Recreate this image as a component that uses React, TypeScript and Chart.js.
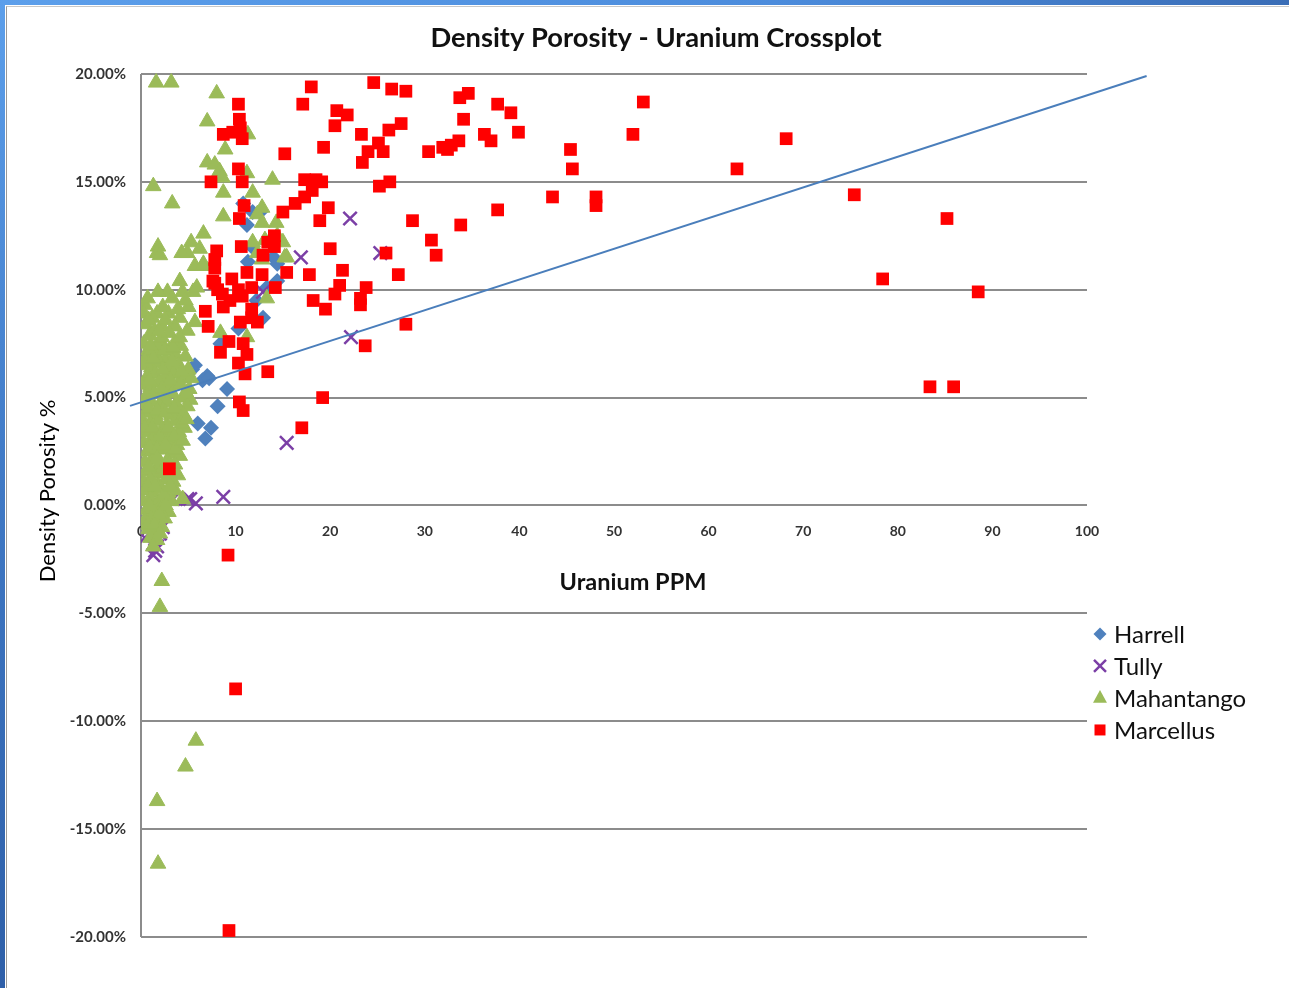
import { useEffect, useRef } from "react";
import { Chart, registerables } from "chart.js";

Chart.register(...registerables);

// ---------- text ----------
const CHART_TITLE = "Density Porosity - Uranium Crossplot";
const X_TITLE = "Uranium PPM";
const Y_TITLE = "Density Porosity %";

// ---------- axes ----------
const X_MIN = 0;
const X_MAX = 100;
const X_STEP = 10;
const Y_MIN = -20;
const Y_MAX = 20;
const Y_STEP = 5;

// ---------- series: [Uranium PPM, Density Porosity %] ----------
const harrell: [number, number][] = [
  [10.8, 14.0], [11.8, 13.6], [12.6, 13.6], [11.2, 13.0], [11.7, 12.0], [14.0, 11.5],
  [14.4, 11.2], [13.3, 10.1], [14.4, 10.4], [10.3, 8.2], [12.9, 8.7], [8.4, 7.5],
  [7.0, 6.0], [6.5, 5.8], [5.4, 6.3], [9.1, 5.4], [8.1, 4.6], [6.0, 3.8],
  [7.4, 3.6], [6.8, 3.1], [7.2, 5.9], [5.7, 6.5], [12.2, 9.5], [11.3, 11.3],
];

const tully: [number, number][] = [
  [22.1, 13.3], [16.9, 11.5], [25.3, 11.7], [22.2, 7.8], [15.4, 2.9], [8.7, 0.4],
  [5.8, 0.1], [4.9, 0.3], [3.4, 0.3], [1.3, -2.3], [1.5, -2.1], [2.0, -1.3],
  [0.4, -1.5], [1.0, -0.7], [2.3, -1.0], [3.3, 6.2], [3.8, 4.0], [12.9, 9.9],
  [5.2, 0.3], [1.7, -1.9],
];

const mahantangoScattered: [number, number][] = [
  [1.6, 19.6], [3.2, 19.6], [8.0, 19.1], [7.0, 17.8], [11.3, 17.2], [8.9, 16.5],
  [7.0, 15.9], [7.8, 15.8], [8.3, 15.5], [11.2, 15.4], [8.6, 15.2], [1.3, 14.8],
  [13.9, 15.1], [11.8, 14.5], [8.7, 14.5], [3.3, 14.0], [8.7, 13.4], [12.3, 13.5],
  [12.8, 13.1], [14.3, 13.1], [15.0, 12.2], [15.4, 11.5], [13.1, 12.3], [6.6, 12.6],
  [5.3, 12.2], [6.2, 11.9], [4.9, 11.7], [1.8, 12.0], [1.7, 11.7], [12.3, 11.7],
  [12.8, 11.4], [6.6, 11.2], [4.4, 9.9], [5.5, 9.9], [13.3, 9.6], [5.0, 9.2],
  [2.0, 11.6], [4.3, 11.7], [5.7, 11.1], [6.5, 11.1], [4.1, 10.4], [2.8, 9.9],
  [1.8, 9.9], [5.9, 10.1], [4.7, 9.5], [1.7, 8.9], [4.1, 8.7], [5.7, 8.5],
  [2.2, 8.3], [4.9, 8.1], [8.4, 8.0], [1.0, 7.4], [2.2, 7.8], [3.4, 7.3],
  [4.1, 7.8], [11.2, 7.8], [15.2, 11.5], [11.8, 12.2], [14.4, 12.5], [12.8, 13.8],
  [4.8, 4.0], [4.4, 3.0], [4.4, 0.3], [2.2, -3.5], [2.0, -4.7], [5.8, -10.9],
  [4.7, -12.1], [1.7, -13.7], [1.8, -16.6], [0.5, 8.4], [0.9, 7.9],
  [0.4, 9.3], [1.2, 8.7], [2.9, 8.9], [3.3, 9.6], [0.3, 8.9], [3.6, 8.3], [1.4, 8.1],
  [0.7, 9.6], [2.3, 9.2], [3.9, 9.1], [2.6, 8.6], [0.8, 8.6], [3.0, 8.0], [1.9, 8.1],
];

const mahantangoCluster: [number, number][] = [
  [0.3, 7.5], [1.2, 7.3], [2.1, 7.6], [3.0, 7.2], [4.2, 7.4],
  [0.6, 6.9], [1.6, 7.0], [2.6, 6.8], [3.6, 7.0], [4.7, 6.9],
  [0.3, 6.5], [1.1, 6.4], [2.0, 6.6], [3.1, 6.4], [4.0, 6.5], [5.0, 6.3],
  [0.7, 6.0], [1.5, 6.1], [2.5, 5.9], [3.4, 6.1], [4.5, 5.9], [5.3, 5.9],
  [0.2, 5.6], [1.0, 5.5], [1.9, 5.7], [2.9, 5.5], [3.9, 5.6], [5.1, 5.4],
  [0.6, 5.1], [1.4, 5.2], [2.4, 5.0], [3.3, 5.2], [4.4, 5.0], [5.2, 4.9],
  [0.3, 4.7], [1.1, 4.8], [2.0, 4.6], [2.8, 4.8], [3.7, 4.7], [4.9, 4.6],
  [0.5, 4.3], [1.5, 4.2], [2.3, 4.4], [3.2, 4.2], [4.2, 4.3],
  [0.2, 3.9], [1.0, 3.8], [1.8, 3.9], [2.7, 3.7], [3.6, 3.9], [4.6, 3.6],
  [0.6, 3.4], [1.4, 3.3], [2.2, 3.5], [3.1, 3.3], [4.0, 3.4],
  [0.3, 2.9], [1.1, 3.0], [1.9, 2.8], [2.9, 3.0], [3.8, 2.8],
  [0.7, 2.5], [1.5, 2.4], [2.4, 2.6], [3.3, 2.4], [4.1, 2.3],
  [0.4, 2.0], [1.2, 2.1], [2.0, 1.9], [2.8, 2.1], [3.6, 1.9],
  [0.6, 1.6], [1.4, 1.5], [2.3, 1.7], [3.2, 1.5], [3.9, 1.4],
  [0.3, 1.1], [1.0, 1.2], [1.8, 1.0], [2.6, 1.2], [3.4, 1.1],
  [0.5, 0.7], [1.3, 0.6], [2.1, 0.8], [2.9, 0.6], [3.6, 0.7],
  [0.2, 0.2], [1.0, 0.3], [1.7, 0.1], [2.5, 0.3], [3.2, 0.2],
  [0.6, -0.2], [1.4, -0.3], [2.2, -0.1], [2.9, -0.3],
  [0.4, -0.7], [1.1, -0.6], [1.8, -0.8], [2.5, -0.6],
  [0.8, -1.1], [1.5, -1.2], [2.2, -1.0],
  [1.0, -1.5], [1.7, -1.6],
  [1.3, -1.9],
  [0.8, 7.2], [1.7, 7.4], [2.5, 7.2], [3.5, 7.5],
  [0.4, 6.7], [1.3, 6.8], [2.3, 6.3], [3.3, 6.7], [4.3, 6.2],
  [0.9, 5.8], [2.2, 5.4], [3.1, 5.8], [4.2, 5.6], [4.8, 5.2],
  [0.8, 4.5], [1.7, 4.4], [2.6, 4.3], [3.5, 4.5], [4.5, 4.2],
  [0.4, 3.6], [1.2, 3.6], [2.0, 3.2], [2.9, 3.6], [3.5, 3.2], [4.3, 3.8],
  [0.9, 2.7], [1.7, 2.6], [2.6, 2.8], [3.6, 2.6],
  [0.8, 1.8], [1.7, 2.2], [2.6, 1.5], [3.0, 1.9],
  [0.7, 0.9], [1.5, 0.9], [2.4, 0.5], [3.1, 0.9],
  [0.9, 0.0], [1.9, -0.4], [2.6, 0.0],
  [0.7, -0.9], [1.4, -0.9], [2.0, -1.3],
];

const marcellus: [number, number][] = [
  [10.3, 18.6], [18.0, 19.4], [17.1, 18.6], [24.6, 19.6], [26.5, 19.3], [28.0, 19.2],
  [33.7, 18.9], [34.6, 19.1], [37.7, 18.6], [39.1, 18.2], [53.1, 18.7], [20.7, 18.3],
  [21.8, 18.1], [20.5, 17.6], [23.3, 17.2], [27.5, 17.7], [26.2, 17.4], [25.1, 16.8],
  [24.0, 16.4], [23.4, 15.9], [25.6, 16.4], [34.1, 17.9], [36.3, 17.2], [37.0, 16.9],
  [39.9, 17.3], [30.4, 16.4], [31.9, 16.6], [32.4, 16.5], [32.8, 16.7], [33.6, 16.9],
  [19.3, 16.6], [15.2, 16.3], [45.4, 16.5], [45.6, 15.6], [52.0, 17.2], [63.0, 15.6],
  [68.2, 17.0], [75.4, 14.4], [85.2, 13.3], [78.4, 10.5], [88.5, 9.9], [83.4, 5.5],
  [85.9, 5.5], [43.5, 14.3], [48.1, 14.3], [48.1, 13.9], [37.7, 13.7], [33.8, 13.0],
  [28.7, 13.2], [30.7, 12.3], [31.2, 11.6], [27.2, 10.7], [25.9, 11.7], [28.0, 8.4],
  [23.8, 10.1], [23.2, 9.6], [23.2, 9.3], [23.7, 7.4], [19.2, 5.0], [17.0, 3.6],
  [13.4, 6.2], [26.3, 15.0], [25.2, 14.8], [17.3, 15.1], [18.5, 15.1], [19.1, 15.0],
  [18.1, 14.6], [17.3, 14.3], [16.3, 14.0], [15.0, 13.6], [19.8, 13.8], [18.9, 13.2],
  [10.7, 15.0], [10.3, 15.6], [7.4, 15.0], [10.9, 13.9], [10.4, 13.3], [14.1, 12.5],
  [13.4, 12.2], [10.6, 12.0], [20.0, 11.9], [21.3, 10.9], [17.8, 10.7], [15.4, 10.8],
  [8.0, 11.8], [7.8, 11.4], [7.8, 11.0], [11.2, 10.8], [12.8, 10.7], [9.6, 10.5],
  [7.6, 10.4], [8.1, 10.0], [10.3, 10.0], [11.7, 10.1], [14.2, 10.1], [18.2, 9.5],
  [19.5, 9.1], [20.5, 9.8], [21.0, 10.2], [6.8, 9.0], [9.4, 9.5], [10.7, 9.7],
  [11.7, 9.1], [8.7, 9.2], [7.1, 8.3], [8.4, 7.1], [9.3, 7.6], [10.8, 7.5],
  [10.5, 8.5], [11.2, 7.0], [10.3, 6.6], [11.0, 6.1], [12.3, 8.5], [11.7, 8.7],
  [7.8, 10.3], [8.6, 9.8], [10.4, 4.8], [10.8, 4.4], [3.0, 1.7], [9.2, -2.3],
  [10.0, -8.5], [9.3, -19.7], [8.7, 17.2], [9.7, 17.3], [10.7, 17.0], [10.5, 17.5],
  [10.4, 17.9], [12.9, 11.6], [14.1, 12.0],
];

// linear trendline (Density Porosity % = slope * U + intercept), drawn across this U range
const TREND_SLOPE = 0.1423;
const TREND_INTERCEPT = 4.78;
const TREND_X_RANGE: [number, number] = [-1.16, 106.3];

// ---------- styles ----------
const FONT = "Lato, 'Open Sans', 'DejaVu Sans', sans-serif";
const C_HARRELL = "#4F81BD";
const C_TULLY = "#7B3FA6";
const C_MAHANTANGO = "#9BBB59";
const C_MARCELLUS = "#FF0000";
const C_TREND = "#4A7EBB";
const C_GRID = "#8C8C8C";

const toPts = (arr: [number, number][]) => arr.map(([x, y]) => ({ x, y }));

type LegendItem = { label: string; style: string; color: string };
const LEGEND_ITEMS: LegendItem[] = [
  { label: "Harrell", style: "rectRot", color: C_HARRELL },
  { label: "Tully", style: "crossRot", color: C_TULLY },
  { label: "Mahantango", style: "triangle", color: C_MAHANTANGO },
  { label: "Marcellus", style: "rect", color: C_MARCELLUS },
];

function drawMarker(ctx: CanvasRenderingContext2D, style: string, color: string, x: number, y: number) {
  ctx.save();
  ctx.fillStyle = color;
  ctx.strokeStyle = color;
  ctx.beginPath();
  if (style === "rectRot") {
    const r = 6.5;
    ctx.moveTo(x - r, y);
    ctx.lineTo(x, y - r);
    ctx.lineTo(x + r, y);
    ctx.lineTo(x, y + r);
    ctx.closePath();
    ctx.fill();
  } else if (style === "crossRot") {
    const r = 6;
    ctx.lineWidth = 2.5;
    ctx.moveTo(x - r, y - r);
    ctx.lineTo(x + r, y + r);
    ctx.moveTo(x + r, y - r);
    ctx.lineTo(x - r, y + r);
    ctx.stroke();
  } else if (style === "triangle") {
    const r = 8;
    ctx.moveTo(x, y - r);
    ctx.lineTo(x + r * 0.87, y + r * 0.6);
    ctx.lineTo(x - r * 0.87, y + r * 0.6);
    ctx.closePath();
    ctx.fill();
  } else {
    const h = 5.5;
    ctx.rect(x - h, y - h, 2 * h, 2 * h);
    ctx.fill();
  }
  ctx.restore();
}

const sideLegend = {
  id: "sideLegend",
  afterDraw(chart: any) {
    const { ctx, chartArea } = chart;
    const markerX = chartArea.right + 13;
    const textX = chartArea.right + 27;
    const firstY = chartArea.top + 560;
    const rowGap = 32;
    ctx.save();
    ctx.font = `24px ${FONT}`;
    ctx.textBaseline = "middle";
    ctx.textAlign = "left";
    LEGEND_ITEMS.forEach((it, i) => {
      const y = firstY + i * rowGap;
      drawMarker(ctx, it.style, it.color, markerX, y);
      ctx.fillStyle = "#111";
      ctx.fillText(it.label, textX, y + 1);
    });
    ctx.restore();
  },
};

// Excel places the axis titles slightly off the plot centre; nudge the title anchors only
const axisTitleNudge = {
  id: "axisTitleNudge",
  afterLayout(chart: any) {
    const xs = chart.scales.x;
    const ys = chart.scales.y;
    if (xs) xs.right += 38;
    if (ys) ys.top -= 29;
  },
};

export default function App() {
  const canvasRef = useRef<HTMLCanvasElement | null>(null);

  useEffect(() => {
    const canvas = canvasRef.current;
    if (!canvas) return;
    const trendData = TREND_X_RANGE.map((x) => ({ x, y: TREND_SLOPE * x + TREND_INTERCEPT }));

    const chart = new Chart(canvas, {
      type: "scatter",
      data: {
        datasets: [
          {
            label: "Harrell",
            data: toPts(harrell),
            pointStyle: "rectRot",
            pointRadius: 8,
            backgroundColor: C_HARRELL,
            borderColor: C_HARRELL,
            borderWidth: 0,
            order: 4,
          },
          {
            label: "Tully",
            data: toPts(tully),
            pointStyle: "crossRot",
            pointRadius: 9.5,
            backgroundColor: C_TULLY,
            borderColor: C_TULLY,
            borderWidth: 2.5,
            order: 3,
          },
          {
            label: "Mahantango",
            data: toPts([...mahantangoCluster, ...mahantangoScattered]),
            pointStyle: "triangle",
            pointRadius: 9,
            backgroundColor: C_MAHANTANGO,
            borderColor: C_MAHANTANGO,
            borderWidth: 1,
            order: 2,
          },
          {
            label: "Marcellus",
            data: toPts(marcellus),
            pointStyle: "rect",
            pointRadius: 9,
            backgroundColor: C_MARCELLUS,
            borderColor: C_MARCELLUS,
            borderWidth: 0,
            order: 1,
          },
          {
            label: "Linear trend",
            data: trendData,
            showLine: true,
            pointRadius: 0,
            borderColor: C_TREND,
            borderWidth: 2,
            clip: false as any,
            order: 0,
          } as any,
        ],
      },
      options: {
        responsive: false,
        animation: false,
        devicePixelRatio: 1,
        events: [],
        layout: { padding: { left: 23, top: 0, right: 0, bottom: 51 } },
        plugins: {
          legend: { display: false },
          tooltip: { enabled: false },
          title: {
            display: true,
            text: CHART_TITLE,
            color: "#111",
            font: { family: FONT, size: 27.3, weight: "bold" },
            padding: { top: 21.6, bottom: 19.6 },
          },
        },
        scales: {
          x: {
            type: "linear",
            position: { y: 0 } as any,
            min: X_MIN,
            max: X_MAX,
            ticks: {
              stepSize: X_STEP,
              color: "#333",
              font: { family: FONT, size: 14, weight: "bold" },
              padding: 18,
              maxRotation: 0,
            },
            grid: {
              display: true,
              drawTicks: false,
              tickLength: 0,
              lineWidth: 2,
              color: (c: any) => (c.tick && c.tick.value === X_MIN ? C_GRID : "rgba(0,0,0,0)"),
            },
            border: { display: false },
            title: {
              display: true,
              text: X_TITLE,
              color: "#111",
              font: { family: FONT, size: 23.5, weight: "bold" },
              padding: { top: 0, bottom: 0 },
            },
            afterFit: (s: any) => {
              s.height = 91.1;
            },
          } as any,
          y: {
            type: "linear",
            position: "left",
            min: Y_MIN,
            max: Y_MAX,
            ticks: {
              stepSize: Y_STEP,
              color: "#333",
              font: { family: FONT, size: 15, weight: "bold" },
              padding: 15,
              callback: (v: any) => {
                const n = Math.abs(Number(v)) < 1e-9 ? 0 : Number(v);
                return n.toFixed(2) + "%";
              },
            },
            grid: { color: C_GRID, lineWidth: 2, drawTicks: false, tickLength: 0 },
            border: { display: false },
            title: {
              display: true,
              text: Y_TITLE,
              color: "#000",
              font: { family: FONT, size: 22, weight: "normal" },
              padding: { top: 12, bottom: 0 },
            },
            afterFit: (s: any) => {
              s.width = 118;
            },
          } as any,
          legendSpace: {
            type: "linear",
            position: "right",
            display: true,
            ticks: { display: false },
            grid: { display: false, drawTicks: false },
            border: { display: false },
            afterFit: (s: any) => {
              s.width = 202;
            },
          } as any,
        },
      },
      plugins: [axisTitleNudge, sideLegend],
    });

    return () => chart.destroy();
  }, []);

  return (
    <div
      style={{
        position: "fixed",
        left: 0,
        top: 0,
        width: 1289,
        height: 988,
        background: "#fff",
        overflow: "hidden",
      }}
    >
      <div
        style={{
          position: "absolute",
          left: 0,
          top: 0,
          width: 1289,
          height: 5,
          background: "linear-gradient(to right, #5C9FEB, #4C8CDC 60%, #3A6DB6)",
        }}
      />
      <div
        style={{
          position: "absolute",
          left: 0,
          top: 0,
          width: 5,
          height: 988,
          background: "linear-gradient(to bottom, #5C9FEB, #3F78C4 50%, #2E5FA8)",
        }}
      />
      <div
        style={{
          position: "absolute",
          left: 6,
          top: 6,
          width: 1283,
          height: 982,
          borderLeft: "1.5px solid #9A9A9A",
          borderTop: "1px solid #C8C8C8",
          boxSizing: "border-box",
        }}
      />
      <canvas
        ref={canvasRef}
        width={1289}
        height={988}
        style={{ position: "absolute", left: 0, top: 0, width: 1289, height: 988 }}
      />
    </div>
  );
}
